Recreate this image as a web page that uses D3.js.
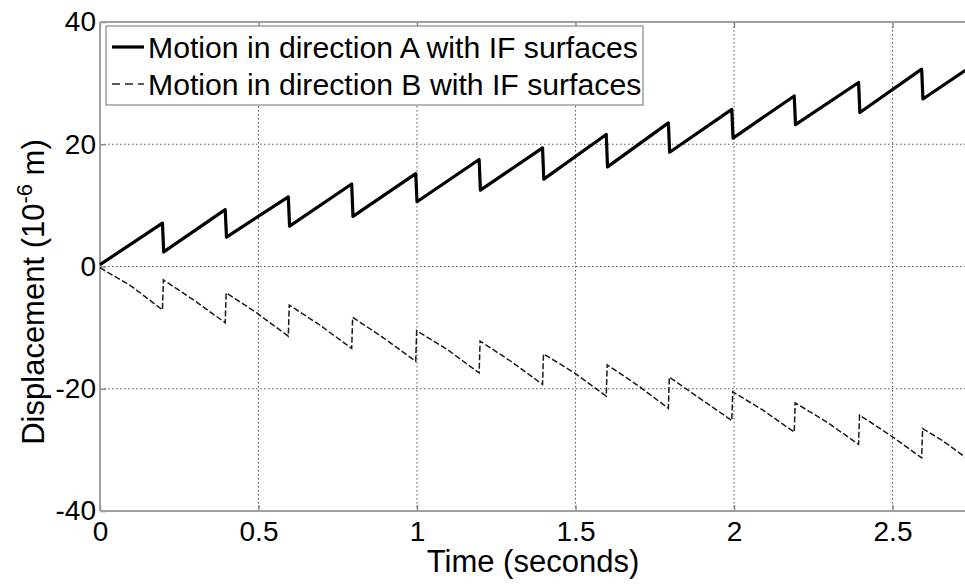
<!DOCTYPE html>
<html>
<head>
<meta charset="utf-8">
<script src="https://cdn.jsdelivr.net/npm/d3@7"></script>
<style>
body { margin: 0; background: #fff; }
svg { display: block; font-family: "Liberation Sans", Arial, sans-serif; }
.grid line { stroke: #555; stroke-width: 1; stroke-dasharray: 1.5,2.5; }
.tick text { fill: #000; }
</style>
</head>
<body>
<div class="diagram"></div>
<script>
// data
const seriesNames = ["Motion in direction A with IF surfaces", "Motion in direction B with IF surfaces"];
const jumpTimes = [0.197, 0.395, 0.594, 0.794, 0.996, 1.196, 1.396, 1.597, 1.793, 1.993, 2.19, 2.393, 2.592];
const aStart = [0, 0.3], aEnd = [2.73, 32.1];
const aPeaks = [7.1, 9.3, 11.4, 13.5, 15.2, 17.5, 19.4, 21.6, 23.5, 25.7, 27.9, 30.1, 32.3];
const aDrops = [2.4, 4.8, 6.6, 8.2, 10.6, 12.5, 14.3, 16.3, 18.7, 21.0, 23.2, 25.2, 27.4];
const bStart = [0, -0.2], bEnd = [2.73, -31.2];
const bTroughs = [-7.1, -9.2, -11.4, -13.4, -15.5, -17.4, -19.3, -21.2, -23.2, -25.2, -27.1, -29.1, -31.3];
const bTops = [-2.2, -4.3, -6.3, -8.3, -10.5, -12.2, -14.3, -16.1, -18.1, -20.5, -22.3, -24.3, -26.5];
const bMids = [-3.2, -5.5, -7.6, -9.6, -11.7, -13.6, -15.5, -17.4, -19.4, -21.6, -23.5, -25.4, -27.6, -28.6];
const xTicks = [0, 0.5, 1, 1.5, 2, 2.5];
const xTickLabels = ["0", "0.5", "1", "1.5", "2", "2.5"];
const yTicks = [-40, -20, 0, 20, 40];
const yTickLabels = ["-40", "-20", "0", "20", "40"];

const w = 965, h = 584;
const padL = 100, padT = 22, padB = 511;

const svg = d3.select(".diagram").append("svg")
  .attr("width", w)
  .attr("height", h);

const x = d3.scaleLinear().domain([0, 3]).range([padL, padL + 317 * 3]);
const y = d3.scaleLinear().domain([-40, 40]).range([padB, padT]);

// build the point lists
let ptsA = [aStart];
jumpTimes.forEach((t, i) => {
  ptsA.push([t, aPeaks[i]]);
  ptsA.push([t + 0.004, aDrops[i]]);
});
ptsA.push(aEnd);

let ptsB = [bStart];
jumpTimes.forEach((t, i) => {
  const prev = i === 0 ? 0 : jumpTimes[i - 1];
  ptsB.push([(prev + t) / 2, bMids[i]]);
  ptsB.push([t, bTroughs[i]]);
  ptsB.push([t + 0.003, bTops[i]]);
});
ptsB.push([(jumpTimes[jumpTimes.length - 1] + bEnd[0]) / 2, bMids[bMids.length - 1]]);
ptsB.push(bEnd);

// grid
const grid = svg.append("g").attr("class", "grid");
grid.selectAll(".gx")
  .data(xTicks.filter(d => d > 0))
  .enter().append("line")
  .attr("x1", d => x(d)).attr("x2", d => x(d))
  .attr("y1", padT).attr("y2", padB);
grid.selectAll(".gy")
  .data(yTicks.filter(d => d > -40 && d < 40))
  .enter().append("line")
  .attr("x1", padL).attr("x2", w)
  .attr("y1", d => y(d)).attr("y2", d => y(d));

// axes
const xAxis = d3.axisBottom(x)
  .tickValues(xTicks)
  .tickFormat((d, i) => xTickLabels[i])
  .tickSizeInner(-6).tickSizeOuter(0).tickPadding(10);
const gx = svg.append("g")
  .attr("transform", "translate(0," + padB + ")")
  .call(xAxis);
gx.selectAll("text").attr("font-size", "28px");

const xTop = d3.axisTop(x).tickValues(xTicks).tickFormat("").tickSizeInner(-6).tickSizeOuter(0);
const gxt = svg.append("g")
  .attr("transform", "translate(0," + padT + ")")
  .call(xTop);

const yAxis = d3.axisLeft(y)
  .tickValues(yTicks)
  .tickFormat((d, i) => yTickLabels[i])
  .tickSizeInner(-6).tickSizeOuter(0).tickPadding(4);
const gy = svg.append("g")
  .attr("transform", "translate(" + padL + ",0)")
  .call(yAxis);
gy.selectAll("text").attr("font-size", "28px");

[gx, gxt, gy].forEach(g => {
  g.select(".domain").remove();
  g.selectAll(".tick line").attr("stroke", "#888").attr("stroke-width", 1.5);
});

// box
svg.append("line").attr("x1", padL).attr("x2", w).attr("y1", padT).attr("y2", padT)
  .attr("stroke", "#a0a0a0").attr("stroke-width", 2);
svg.append("line").attr("x1", padL).attr("x2", w).attr("y1", padB).attr("y2", padB)
  .attr("stroke", "#a0a0a0").attr("stroke-width", 2);
svg.append("line").attr("x1", padL).attr("x2", padL).attr("y1", padT).attr("y2", padB)
  .attr("stroke", "#a0a0a0").attr("stroke-width", 2);

// lines
const line = d3.line().x(d => x(d[0])).y(d => y(d[1]));
svg.append("path")
  .datum(ptsB)
  .attr("d", line)
  .attr("fill", "none")
  .attr("stroke", "#1a1a1a")
  .attr("stroke-width", 1.5)
  .attr("stroke-dasharray", "6,2.5");
svg.append("path")
  .datum(ptsA)
  .attr("d", line)
  .attr("fill", "none")
  .attr("stroke", "#000")
  .attr("stroke-width", 3.2)
  .attr("stroke-linejoin", "round");

// legend
const legend = svg.append("g");
legend.append("rect")
  .attr("x", 106).attr("y", 26)
  .attr("width", 537).attr("height", 79)
  .attr("fill", "#fff")
  .attr("stroke", "#888")
  .attr("stroke-width", 1.2);
const rows = [47, 84];
legend.selectAll(".ll")
  .data(seriesNames)
  .enter().append("line")
  .attr("x1", 112).attr("x2", 144)
  .attr("y1", (d, i) => rows[i]).attr("y2", (d, i) => rows[i])
  .attr("stroke", (d, i) => i === 0 ? "#000" : "#222")
  .attr("stroke-width", (d, i) => i === 0 ? 3.2 : 1.4)
  .attr("stroke-dasharray", (d, i) => i === 0 ? null : "8,5");
legend.selectAll(".lt")
  .data(seriesNames)
  .enter().append("text")
  .attr("x", 148)
  .attr("y", (d, i) => rows[i] + 10.5)
  .attr("font-size", "30.2px")
  .text(d => d);

// axis titles
svg.append("text")
  .attr("x", 533)
  .attr("y", 572)
  .attr("text-anchor", "middle")
  .attr("font-size", "31px")
  .text("Time (seconds)");

const ylab = svg.append("text")
  .attr("transform", "translate(44,292) rotate(-90)")
  .attr("text-anchor", "middle")
  .attr("font-size", "31px");
ylab.append("tspan").text("Displacement (10");
ylab.append("tspan").attr("font-size", "22px").attr("dy", "-12").text("-6");
ylab.append("tspan").attr("dy", "12").text(" m)");
</script>
</body>
</html>
